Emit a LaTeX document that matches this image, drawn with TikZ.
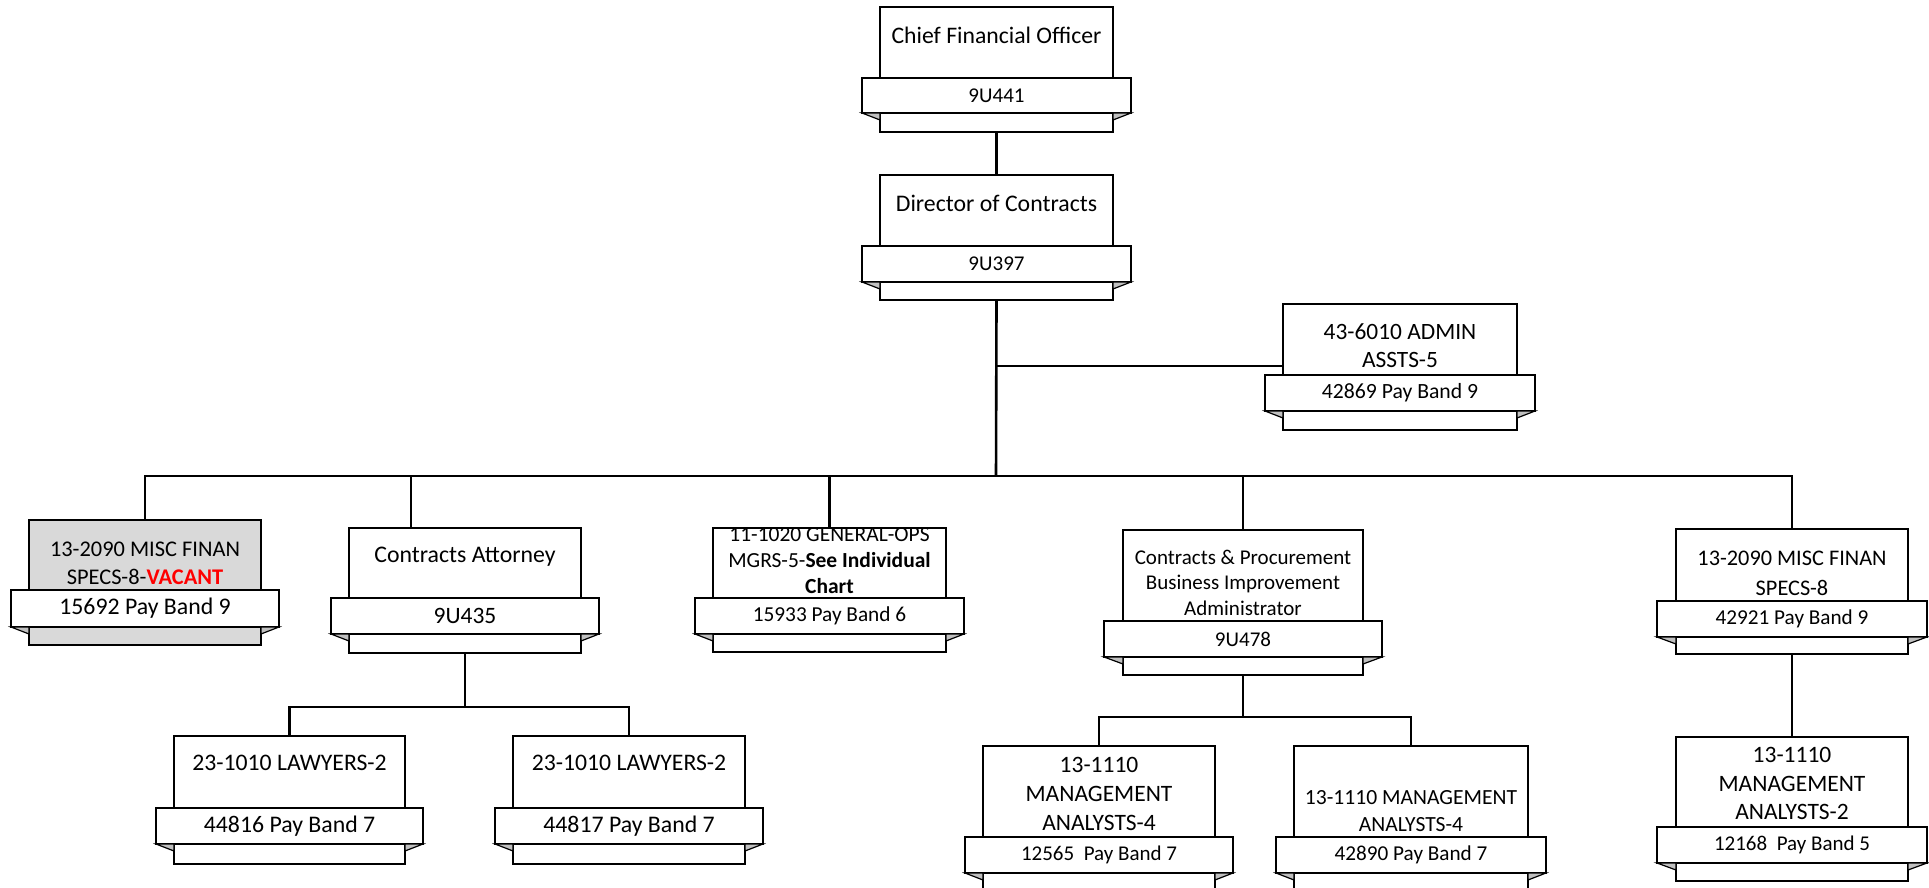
\documentclass[tikz,border=0pt]{standalone}
\usepackage{fontspec}
\setmainfont{Carlito}
\definecolor{vacgray}{HTML}{D9D9D9}
\definecolor{foldgray}{HTML}{C0C0C0}
\definecolor{vacred}{HTML}{FF0000}
\newcommand\fs[2]{\fontsize{#1}{#2}\selectfont}
\tikzset{
  bodybox/.style={draw, line width=1.8pt, fill=white, inner sep=0pt, outer sep=0pt},
  bannerbox/.style={draw, line width=1.8pt, fill=white, inner sep=0pt, outer sep=0pt},
  foldtri/.style={draw, line width=1.2pt, fill=foldgray, line join=miter},
  thinbox/.style={line width=1.3pt},
  thickbox/.style={line width=2.4pt},
  conn/.style={line width=2.6pt, line join=miter},
  admconn/.style={line width=2pt},
  thinconn/.style={line width=1.3pt},
  ttl/.style={align=center, inner sep=0pt},
  paytxt/.style={inner sep=0pt}
}
% name, L, R, T, B, overhang, BT, BB, style
\newcommand\orgbox[9]{%
  \node[bodybox,#9,minimum width={(#3)-(#2)},minimum height={(#5)-(#4)}] (#1) at ({((#2)+(#3))/2},{((#4)+(#5))/2}) {};
  \node[bannerbox,#9,fill=white,minimum width={(#3)-(#2)+2*(#6)},minimum height={(#8)-(#7)}] (#1b) at ({((#2)+(#3))/2},{((#7)+(#8))/2}) {};
  \filldraw[foldtri] (#1b.south west) -- (#1.west |- #1b.south) -- ([yshift=-7pt]#1.west |- #1b.south) -- cycle;
  \filldraw[foldtri] (#1b.south east) -- (#1.east |- #1b.south) -- ([yshift=-7pt]#1.east |- #1b.south) -- cycle;
}
\begin{document}
\begin{tikzpicture}[x=1pt,y=-1pt]
\useasboundingbox (0,0) rectangle (1929,888);
\clip (0,0) rectangle (1929,888);
\fill[white] (0,0) rectangle (1929,888);

% boxes
\orgbox{cfo}{880}{1113}{7}{132}{18}{78}{113}{}
\orgbox{dir}{880}{1113}{175}{300}{18}{246}{282}{}
\orgbox{adm}{1283}{1517}{304}{430}{18}{375}{411}{}
\orgbox{vac}{29}{261}{520}{645}{18}{590}{627}{fill=vacgray}
\orgbox{att}{349}{581}{528}{653}{18}{598}{634}{}
\orgbox{gen}{713}{946}{528}{652}{18}{598}{634}{}
\orgbox{cp}{1123}{1363}{530}{675}{19}{621}{657}{thinbox}
\orgbox{msc}{1676}{1908}{529}{654}{19}{601}{637}{thinbox}
\orgbox{ma2}{1676}{1908}{737}{881}{19}{827}{863}{thinbox}
\orgbox{law1}{174}{405}{736}{864}{18}{808}{844}{}
\orgbox{law2}{513}{745}{736}{864}{18}{808}{844}{}
\orgbox{ma4a}{983}{1215}{746}{905}{18}{837}{873}{thinbox}
\orgbox{ma4b}{1294}{1528}{746}{905}{18}{837}{873}{thickbox}

% titles
\node[ttl,font=\fs{23.7}{29}] (cfot) at (996.5,35) {Chief Financial Officer};
\node[ttl,font=\fs{23.8}{29}] (dirt) at (996.5,203) {Director of Contracts};
\node[ttl,font=\fs{23.4}{28}] (admt) at (1400,346) {43-6010 ADMIN\\ASSTS-5};
\node[ttl,font=\fs{22.4}{28}] (vact) at (145,563) {13-2090 MISC FINAN\\SPECS-8-\textcolor{vacred}{\bfseries VACANT}};
\node[ttl,font=\fs{23.8}{29}] (attt) at (465,557) {Contracts Attorney};
\begin{scope}
\clip (713,528) rectangle (946,598);
\node[ttl,font=\fs{21.5}{26}] (gent) at (829.5,561) {11-1020 GENERAL-OPS\\MGRS-5-\textbf{See Individual}\\\textbf{Chart}};
\end{scope}
\node[ttl,font=\fs{21}{25.5}] (cpt) at (1243,582.5) {Contracts \& Procurement\\Business Improvement\\Administrator};
\node[ttl,font=\fs{22.3}{30}] (msct) at (1792,573) {13-2090 MISC FINAN\\SPECS-8};
\node[ttl,font=\fs{23.5}{28.5}] (ma2t) at (1792,783.5) {13-1110\\MANAGEMENT\\ANALYSTS-2};
\node[ttl,font=\fs{23.7}{29}] (law1t) at (289.5,763) {23-1010 LAWYERS-2};
\node[ttl,font=\fs{23.7}{29}] (law2t) at (629,763) {23-1010 LAWYERS-2};
\node[ttl,font=\fs{23.5}{29}] (ma4at) at (1099,794) {13-1110\\MANAGEMENT\\ANALYSTS-4};
\node[ttl,font=\fs{21.6}{27}] (ma4bt) at (1411,811.5) {13-1110 MANAGEMENT\\ANALYSTS-4};

% pay texts
\node[paytxt,font=\fs{21}{25}] (cfop) at (cfob) {9U441};
\node[paytxt,font=\fs{21}{25}] (dirp) at (dirb) {9U397};
\node[paytxt,font=\fs{21.7}{26}] (admp) at (admb) {42869 Pay Band 9};
\node[paytxt,font=\fs{23.8}{28}] (vacp) at (vacb) {15692 Pay Band 9};
\node[paytxt,font=\fs{23.5}{28}] (attp) at (attb) {9U435};
\node[paytxt,font=\fs{21.3}{26}] (genp) at (genb) {15933 Pay Band 6};
\node[paytxt,font=\fs{21}{25}] (cpp) at (cpb) {9U478};
\node[paytxt,font=\fs{21.2}{26}] (mscp) at (mscb) {42921 Pay Band 9};
\node[paytxt,font=\fs{21}{25}] (ma2p) at (ma2b) {12168\ \ Pay Band 5};
\node[paytxt,font=\fs{23.8}{28}] (law1p) at (law1b) {44816 Pay Band 7};
\node[paytxt,font=\fs{23.8}{28}] (law2p) at (law2b) {44817 Pay Band 7};
\node[paytxt,font=\fs{21}{25}] (ma4ap) at (ma4ab) {12565\ \ Pay Band 7};
\node[paytxt,font=\fs{21.2}{26}] (ma4bp) at (ma4bb) {42890 Pay Band 7};

% connectors
\coordinate (bus) at (996,476);
\coordinate (admj) at (996,366);
\coordinate (busatt) at (411,476);
\coordinate (attj) at (465,707);
\coordinate (cpj) at (1243,717);
\draw[conn] (cfo.south) -- (dir.north);
\draw[conn] (dir.south) -- (bus);
\draw[admconn] (admj) -- (adm.west |- admj);
\draw[conn] (vac.north) -- (vac.north |- bus) -- (msc.north |- bus) -- (msc.north);
\draw[conn] (busatt) -- (busatt |- att.north);
\draw[conn] (gen.north |- bus) -- (gen.north);
\draw[conn] (cp.north |- bus) -- (cp.north);
\draw[conn] (att.south) -- (attj);
\draw[conn] (law1.north) -- (law1.north |- attj) -- (law2.north |- attj) -- (law2.north);
\draw[conn] (cp.south) -- (cpj);
\draw[conn] (ma4a.north) -- (ma4a.north |- cpj) -- (ma4b.north |- cpj) -- (ma4b.north);
\draw[thinconn] (msc.south) -- (ma2.north);
\end{tikzpicture}
\end{document}
